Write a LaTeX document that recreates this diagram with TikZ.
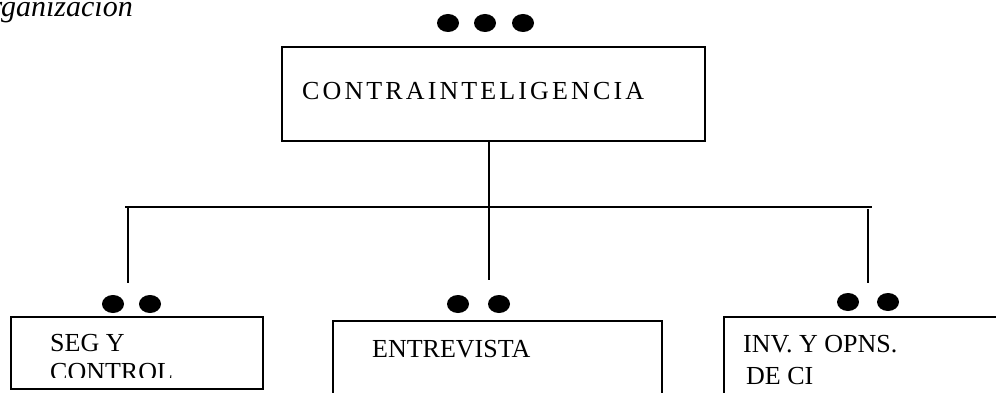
\documentclass[tikz,border=0pt]{standalone}
\usepackage{fontspec}
\setmainfont{Liberation Serif}
\usetikzlibrary{positioning}

\begin{document}
\begin{tikzpicture}[x=1pt, y=-1pt,
    box/.style={draw, line width=1.6pt, rectangle, inner sep=0pt, anchor=north west},
    link/.style={line width=1.2pt},
    lbl/.style={inner sep=0pt, anchor=base west, font=\fontsize{26}{29}\selectfont}]
  \useasboundingbox (0,0) rectangle (996,393);

  % caption, cut at the page edge
  \node[inner sep=0pt, anchor=base east, font=\fontsize{30}{33}\selectfont\itshape] (cap) at (133,17) {Organización};

  % boxes
  \node[box, minimum width=423, minimum height=94] (ci) at (281,46) {};
  \node[box, minimum width=252, minimum height=72] (seg) at (10,316) {};
  \node[box, minimum width=329, minimum height=100] (ent) at (332,320) {};
  \node[box, minimum width=300, minimum height=100] (inv) at (723,316) {};

  % texts
  \node[lbl, font=\fontsize{26}{29}\selectfont\addfontfeature{LetterSpace=12}] (ciT) at (302,100) {CONTRAINTELIGENCIA};
  \node[lbl] (segT) at (50,351) {SEG Y};
  \begin{scope}
    \clip (0,360) rectangle (262,377);
    \node[lbl] (segU) at (50,380) {CONTROL};
  \end{scope}
  \node[lbl] (entT) at (372,357) {ENTREVISTA};
  \node[lbl] (invT) at (743,352) {INV. Y OPNS.};
  \node[lbl] (invU) at (746,384) {DE CI};

  % connectors
  \coordinate (busL) at (125,207);
  \coordinate (busM) at (489,207);
  \coordinate (busR) at (872,207);
  \coordinate (segTop) at (128,283);
  \coordinate (entTop) at (489,280);
  \coordinate (invTop) at (868,283);
  \draw[link] (busM |- ci.south) -- (busM);
  \draw[line width=1.6pt] (busL) -- (busR);
  \draw[link] (segTop |- busM) -- (segTop);
  \draw[link] (entTop |- busM) -- (entTop);
  \draw[link] ([yshift=-2pt]invTop |- busR) -- (invTop);

  % dots
  \foreach \x/\y in {448/23, 485/23, 523/23, 113/304, 150/304, 458/304, 499/304, 848/302, 888/302}
    \fill (\x,\y) ellipse (11 and 9);
\end{tikzpicture}
\end{document}
